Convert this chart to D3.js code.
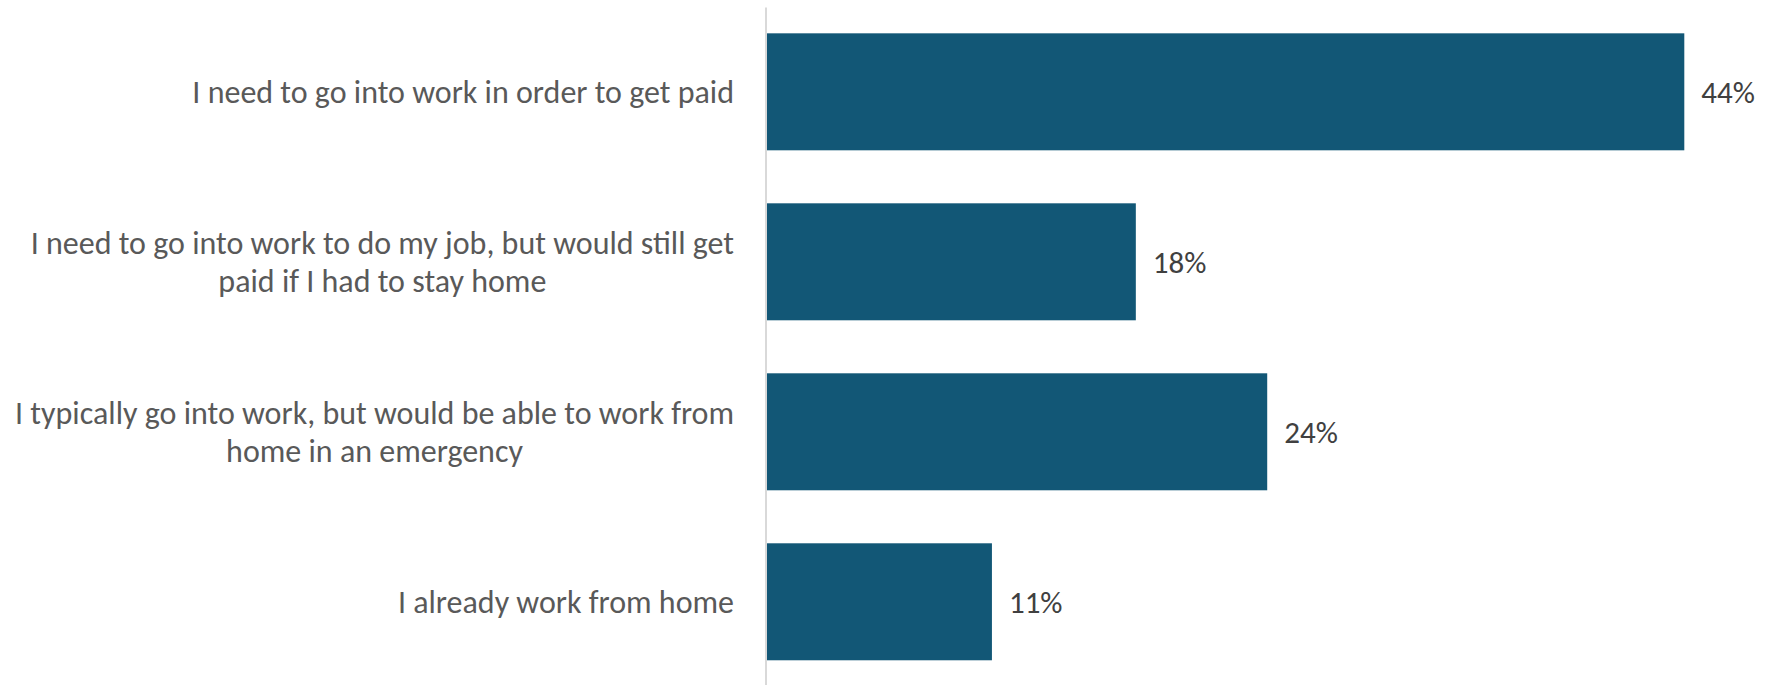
<!DOCTYPE html>
<html>
<head>
<meta charset="utf-8">
<script src="https://cdn.jsdelivr.net/npm/d3@7"></script>
<style>
  html, body { margin: 0; padding: 0; background: #ffffff; }
  svg { display: block; }
  text { font-family: "Carlito", "Lato", "Noto Sans", sans-serif; }
</style>
</head>
<body>
<svg id="chart" width="1775" height="685"></svg>
<script>
// ---- data ----
const categories = [
  "I need to go into work in order to get paid",
  "I need to go into work to do my job, but would still get\npaid if I had to stay home",
  "I typically go into work, but would be able to work from\nhome in an emergency",
  "I already work from home"
];
const values = [44, 17.7, 24, 10.8];
const valueLabels = ["44%", "18%", "24%", "11%"];

// ---- layout ----
const W = 1775, H = 685;
const axisX = 766.7;
const svg = d3.select("#chart");

const y = d3.scaleBand()
  .domain(categories)
  .range([6.8, 686.8])
  .paddingInner(0.3118)
  .paddingOuter(0.156);

const x = d3.scaleLinear()
  .domain([0, 44])
  .range([axisX, 1684.3]);

// bars
svg.append("g").selectAll("rect")
  .data(categories)
  .join("rect")
  .attr("x", x(0))
  .attr("y", d => y(d))
  .attr("width", (d, i) => x(values[i]) - x(0))
  .attr("height", y.bandwidth())
  .attr("fill", "#125776");

// axis line (category axis)
const yAxis = d3.axisLeft(y).tickSize(0).tickFormat("");
const ag = svg.append("g").attr("transform", `translate(${axisX - 0.7},0)`).call(yAxis);
ag.select(".domain").attr("stroke", "#d9d9d9").attr("stroke-width", 2)
  .attr("d", `M0,7.5V685`);

// category labels
const labelRight = 734;
const lineH = 38.5;
const fontSize = 32;
categories.forEach((c, i) => {
  const lines = c.split("\n");
  const g = svg.append("g");
  const cy = y(c) + y.bandwidth() / 2;
  const texts = lines.map((ln, j) =>
    g.append("text")
      .attr("y", cy + (j - (lines.length - 1) / 2) * lineH)
      .attr("dy", "0.35em")
      .attr("text-anchor", "middle")
      .attr("font-size", fontSize)
      .attr("fill", "#595959")
      .text(ln)
  );
  const maxW = d3.max(texts, t => t.node().getComputedTextLength());
  texts.forEach(t => t.attr("x", labelRight - maxW / 2));
});

// value labels
svg.append("g").selectAll("text")
  .data(categories)
  .join("text")
  .attr("x", (d, i) => x(values[i]) + 17)
  .attr("y", d => y(d) + y.bandwidth() / 2)
  .attr("dy", "0.35em")
  .attr("font-size", 31)
  .attr("fill", "#404040")
  .text((d, i) => valueLabels[i]);
</script>
</body>
</html>
